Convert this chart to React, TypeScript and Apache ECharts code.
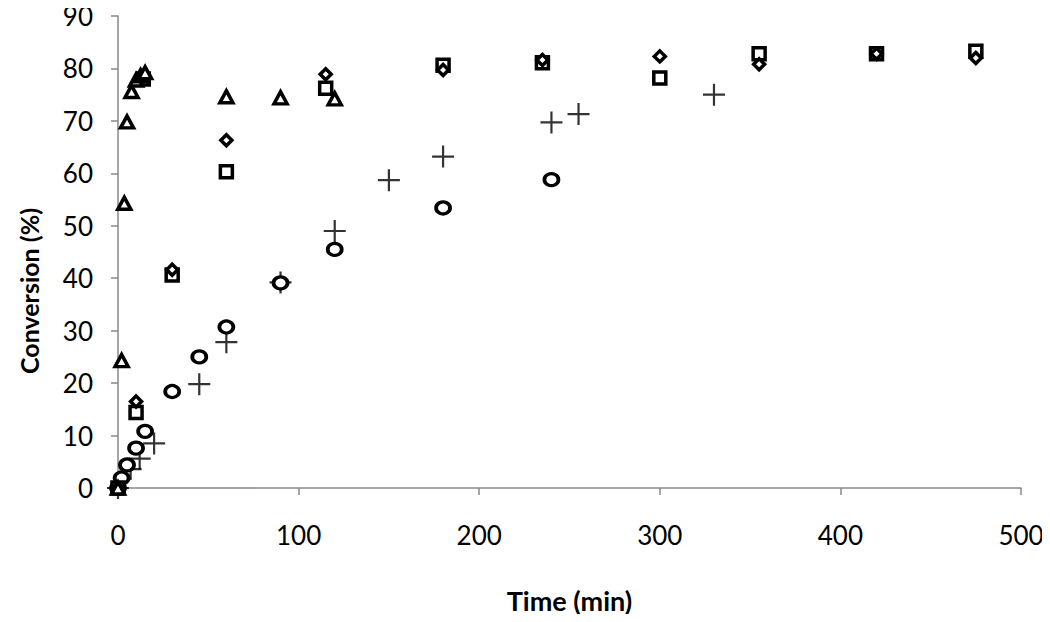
import React, { useEffect, useRef } from "react";
import * as echarts from "echarts";

const xTicks = [0, 100, 200, 300, 400, 500];
const yTicks = [0, 10, 20, 30, 40, 50, 60, 70, 80, 90];

const triangleData: [number, number][] = [
  [0, 0], [2, 24.3], [3.5, 54.3], [5, 69.8], [7.5, 75.6], [10, 77.8], [12.5, 78.6], [15, 79.2],
  [60, 74.6], [90, 74.4], [120, 74.2],
];
const diamondData: [number, number][] = [
  [0, 0], [10, 16.5], [13, 78.3], [30, 41.6], [60, 66.3], [115, 78.9], [180, 79.7],
  [235, 81.6], [300, 82.3], [355, 80.8], [420, 82.8], [475, 82.0],
];
const squareData: [number, number][] = [
  [0, 0], [10, 14.4], [14, 78.0], [30, 40.6], [60, 60.3], [115, 76.2], [180, 80.6],
  [235, 81.1], [300, 78.2], [355, 82.8], [420, 82.8], [475, 83.3],
];
const circleData: [number, number][] = [
  [0, 0], [2, 1.9], [5, 4.4], [10, 7.6], [15, 10.8], [30, 18.4], [45, 25.0],
  [60, 30.7], [90, 39.1], [120, 45.5], [180, 53.4], [240, 58.8],
];
const plusData: [number, number][] = [
  [0, 0], [7, 3.6], [12, 5.6], [20, 8.5], [45, 19.8], [60, 27.8], [90, 39.2], [120, 49.0],
  [150, 58.7], [180, 63.2], [240, 69.7], [255, 71.3], [330, 75.0],
];

const FONT = "Lato, 'Open Sans', sans-serif";

export default function App() {
  const ref = useRef<HTMLDivElement>(null);
  useEffect(() => {
    if (!ref.current) return;
    const chart = echarts.init(ref.current, null, { renderer: "svg" });
    const hollow = (bw: number) => ({
      color: "#ffffff",
      borderColor: "#000000",
      borderWidth: bw,
      opacity: 1,
    });
    chart.setOption({
      animation: false,
      backgroundColor: "#ffffff",
      grid: { left: 118, right: 29, top: 16, bottom: 134, containLabel: false },
      xAxis: {
        type: "value",
        min: xTicks[0],
        max: xTicks[xTicks.length - 1],
        interval: 100,
        name: "Time (min)",
        nameLocation: "middle",
        nameGap: 99,
        nameTextStyle: { fontFamily: FONT, fontSize: 27, fontWeight: "bold", color: "#000" },
        axisLine: { show: true, onZero: false, lineStyle: { color: "#888888", width: 1.5 } },
        axisTick: { show: true, inside: false, length: 7, lineStyle: { color: "#888888", width: 1.5 } },
        axisLabel: { fontFamily: FONT, fontSize: 26, color: "#000", margin: 34 },
        splitLine: { show: false },
      },
      yAxis: {
        type: "value",
        min: yTicks[0],
        max: yTicks[yTicks.length - 1],
        interval: 10,
        name: "Conversion (%)",
        nameLocation: "middle",
        nameGap: 77,
        nameTextStyle: {
          fontFamily: FONT,
          fontSize: 25,
          fontWeight: "bold",
          color: "#000",
          padding: [0, 78, 0, 0],
        },
        axisLine: { show: true, onZero: false, lineStyle: { color: "#888888", width: 1.5 } },
        axisTick: { show: true, inside: false, length: 7, lineStyle: { color: "#888888", width: 1.5 } },
        axisLabel: { fontFamily: FONT, fontSize: 26, color: "#000", margin: 25 },
        splitLine: { show: false },
      },
      series: [
        {
          type: "scatter",
          name: "plus",
          data: plusData,
          symbol: "path://M0,-10 L0,10 M-10,0 L10,0",
          symbolSize: 22,
          itemStyle: { color: "none", borderColor: "#000", borderWidth: 2.2 },
          z: 2,
        },
        {
          type: "scatter",
          name: "circle",
          data: circleData,
          symbol: "circle",
          symbolSize: [14, 12],
          itemStyle: hollow(3.5),
          z: 3,
        },
        {
          type: "scatter",
          name: "square",
          data: squareData,
          symbol: "rect",
          symbolSize: 12,
          itemStyle: hollow(3.5),
          z: 4,
        },
        {
          type: "scatter",
          name: "diamond",
          data: diamondData,
          symbol: "diamond",
          symbolSize: 11,
          itemStyle: hollow(3.5),
          z: 5,
        },
        {
          type: "scatter",
          name: "triangle",
          data: triangleData,
          symbol: "triangle",
          symbolSize: [13, 12],
          itemStyle: hollow(3.5),
          z: 6,
        },
      ],
    });
    return () => chart.dispose();
  }, []);
  return <div ref={ref} style={{ width: 1050, height: 622, margin: -8 }} />;
}
